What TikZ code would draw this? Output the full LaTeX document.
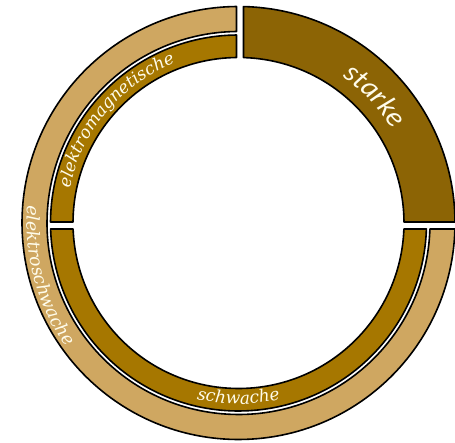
\documentclass[tikz,border=0pt]{standalone}
\usepackage{fontspec}
\newfontfamily\starkefont{Carlito}
\newfontfamily\labelfont{DejaVu Serif}
\usetikzlibrary{decorations.text}
\definecolor{lighttan}{RGB}{207,167,97}
\definecolor{darkgold}{RGB}{166,119,0}
\definecolor{starkebrown}{RGB}{140,100,5}
\definecolor{txtcol}{RGB}{255,252,235}
\newcommand\annseg[5]{%
  \pgfmathsetmacro\segsO{#4(#3)}%
  \pgfmathsetmacro\segeO{#5(#3)}%
  \pgfmathsetmacro\segsI{#4(#2)}%
  \pgfmathsetmacro\segeI{#5(#2)}%
  \draw[ringseg, fill=#1] ([shift={(C)}]\segsO:#3pt) arc[start angle=\segsO, end angle=\segeO, radius=#3pt]
    -- ([shift={(C)}]\segeI:#2pt) arc[start angle=\segeI, end angle=\segsI, radius=#2pt] -- cycle;}
\begin{document}
\begin{tikzpicture}[x=1pt, y=1pt,
  declare function={
    topr(\r)=acos(5/\r);
    topl(\r)=acos(-2/\r);
    rightu(\r)=asin(1/\r);
    rightd(\r)=360+asin(-6/\r);
    leftu(\r)=180-asin(1/\r);
    leftd(\r)=180+asin(6/\r);
  },
  ringseg/.style={draw=black, line width=1.6pt, line join=round},
  arctext/.style={decorate, decoration={text along path, text align=center, text color=txtcol, text={#1}}}
]
\useasboundingbox (0,0) rectangle (455,443);
\coordinate (C) at (238.5,220);
% segments
\annseg{starkebrown}{165.5}{216.5}{rightu}{topr}
\annseg{lighttan}{191.5}{216.5}{topl}{rightd}
\annseg{darkgold}{165.5}{188}{topl}{leftu}
\annseg{darkgold}{165.5}{188}{leftd}{rightd}
% labels
\path[arctext={|\labelfont\itshape\fontsize{17}{20}\selectfont|elektromagnetische}]
  ([shift={(C)}]178:172pt) arc[start angle=178, end angle=102, radius=172pt];
\path[arctext={|\labelfont\itshape\fontsize{17.5}{20}\selectfont|elektroschwache}]
  ([shift={(C)}]165:212pt) arc[start angle=165, end angle=226, radius=212pt];
\path[arctext={|\labelfont\itshape\fontsize{17}{20}\selectfont|schwache}]
  ([shift={(C)}]240:181pt) arc[start angle=240, end angle=300, radius=181pt];
\path[arctext={|\starkefont\itshape\fontsize{29}{32}\selectfont|starke}]
  ([shift={(C)}]78:180pt) arc[start angle=78, end angle=8, radius=180pt];
\end{tikzpicture}
\end{document}
